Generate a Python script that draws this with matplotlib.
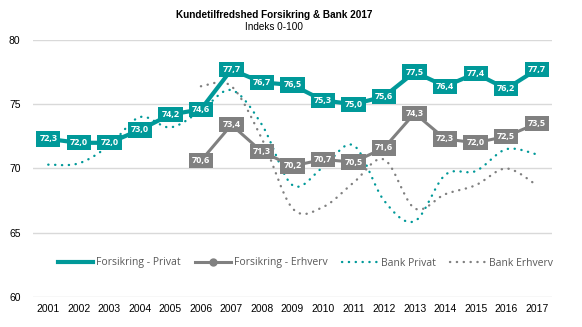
import numpy as np
import matplotlib
matplotlib.use("Agg")
import matplotlib.pyplot as plt
from matplotlib.lines import Line2D

years = [str(y) for y in range(2001, 2018)]
fors_privat = [72.3, 72.0, 72.0, 73.0, 74.2, 74.6, 77.7, 76.7, 76.5, 75.3, 75.0, 75.6, 77.5, 76.4, 77.4, 76.2, 77.7]
fors_erhverv_years = years[5:]
fors_erhverv = [70.6, 73.4, 71.3, 70.2, 70.7, 70.5, 71.6, 74.3, 72.3, 72.0, 72.5, 73.5]
bank_privat = [70.3, 70.4, 71.8, 74.0, 73.2, 74.5, 76.1, 73.4, 68.7, 70.1, 71.8, 67.5, 65.9, 69.5, 69.8, 71.5, 71.1]
bank_erhverv_years = years[5:]
bank_erhverv = [76.4, 76.4, 72.3, 66.9, 67.0, 68.9, 70.7, 66.9, 68.0, 68.7, 70.0, 68.7]

TEAL = "#009999"
GRAY = "#808080"


def smooth(x, y, n=20):
    """Excel-style smoothed line (Bezier through the data points)."""
    x = np.asarray(x, float)
    y = np.asarray(y, float)
    px = np.concatenate([[x[0]], x, [x[-1]]])
    py = np.concatenate([[y[0]], y, [y[-1]]])
    xs, ys = [], []
    for i in range(1, len(px) - 2):
        p0, p1, p2, p3 = (np.array([px[j], py[j]]) for j in (i - 1, i, i + 1, i + 2))
        c1 = p1 + (p2 - p0) / 6.0
        c2 = p2 - (p3 - p1) / 6.0
        t = np.linspace(0, 1, n)[:, None]
        pts = ((1 - t) ** 3) * p1 + 3 * ((1 - t) ** 2) * t * c1 + 3 * (1 - t) * t ** 2 * c2 + t ** 3 * p2
        xs.extend(pts[:, 0]); ys.extend(pts[:, 1])
    return np.array(xs), np.array(ys)


fig = plt.figure(figsize=(5.82, 3.27), dpi=100)
ax = fig.add_axes([33 / 582, 1 - 297 / 327, (552 - 33) / 582, (297 - 40) / 327])

xi = {y: i for i, y in enumerate(years)}
x_all = np.arange(len(years))
x_erh = np.array([xi[y] for y in fors_erhverv_years])
x_berh = np.array([xi[y] for y in bank_erhverv_years])

dot = dict(linestyle=(0, (0.1, 2.8)), dash_capstyle="round", linewidth=1.7)

sx, sy = smooth(x_all, bank_privat)
ax.plot(sx, sy, color=TEAL, zorder=2, **dot)
sx, sy = smooth(x_berh, bank_erhverv)
ax.plot(sx, sy, color=GRAY, zorder=2, **dot)

ax.plot(x_erh, fors_erhverv, color=GRAY, lw=2.2, marker="o", ms=5, zorder=3)
ax.plot(x_all, fors_privat, color=TEAL, lw=3.0, zorder=3, solid_joinstyle="round")

lab_font = dict(family="Open Sans", weight="bold", size=6.5, color="white")
for xv, v in zip(x_erh, fors_erhverv):
    ax.text(xv, v, f"{v:.1f}".replace(".", ","), ha="center", va="center", zorder=5,
            bbox=dict(boxstyle="square,pad=0.35", fc=GRAY, ec="none"), **lab_font)
for xv, v in zip(x_all, fors_privat):
    ax.text(xv, v, f"{v:.1f}".replace(".", ","), ha="center", va="center", zorder=6,
            bbox=dict(boxstyle="square,pad=0.35", fc=TEAL, ec="none"), **lab_font)

ax.set_xlim(-0.5, len(years) - 0.5)
ax.set_ylim(60, 80)
ax.set_yticks([60, 65, 70, 75, 80])
ax.set_xticks(x_all)
ax.set_xticklabels(years)
for s in ax.spines.values():
    s.set_visible(False)
ax.grid(axis="y", color="#d9d9d9", lw=1.0)
ax.set_axisbelow(True)
ax.tick_params(length=0, labelsize=7.5, colors="#000000")
ax.tick_params(axis="y", pad=9)
ax.tick_params(axis="x", pad=5)
for t in ax.get_xticklabels() + ax.get_yticklabels():
    t.set_family("Liberation Sans")

handles = [
    Line2D([], [], color=TEAL, lw=3.0),
    Line2D([], [], color=GRAY, lw=2.2, marker="o", ms=5),
    Line2D([], [], color=TEAL, **dot),
    Line2D([], [], color=GRAY, **dot),
]
names = ["Forsikring - Privat", "Forsikring - Erhverv", "Bank Privat", "Bank Erhverv"]
leg = ax.legend(handles, names, loc="center", bbox_to_anchor=((305 - 33) / 519, (297 - 263) / 257),
                ncol=4, frameon=False, handlelength=3.4, handletextpad=0.3, columnspacing=1.4,
                prop=dict(family="Open Sans", size=7.5))
for t in leg.get_texts():
    t.set_color("#595959")

fig.text(274 / 582, 1 - 15 / 327, "Kundetilfredshed Forsikring & Bank 2017", ha="center", va="center",
         family="Liberation Sans", weight="bold", size=7.2)
fig.text(274 / 582, 1 - 27 / 327, "Indeks 0-100", ha="center", va="center",
         family="Liberation Sans", size=7.2)

fig.savefig("out.png", dpi=100)
